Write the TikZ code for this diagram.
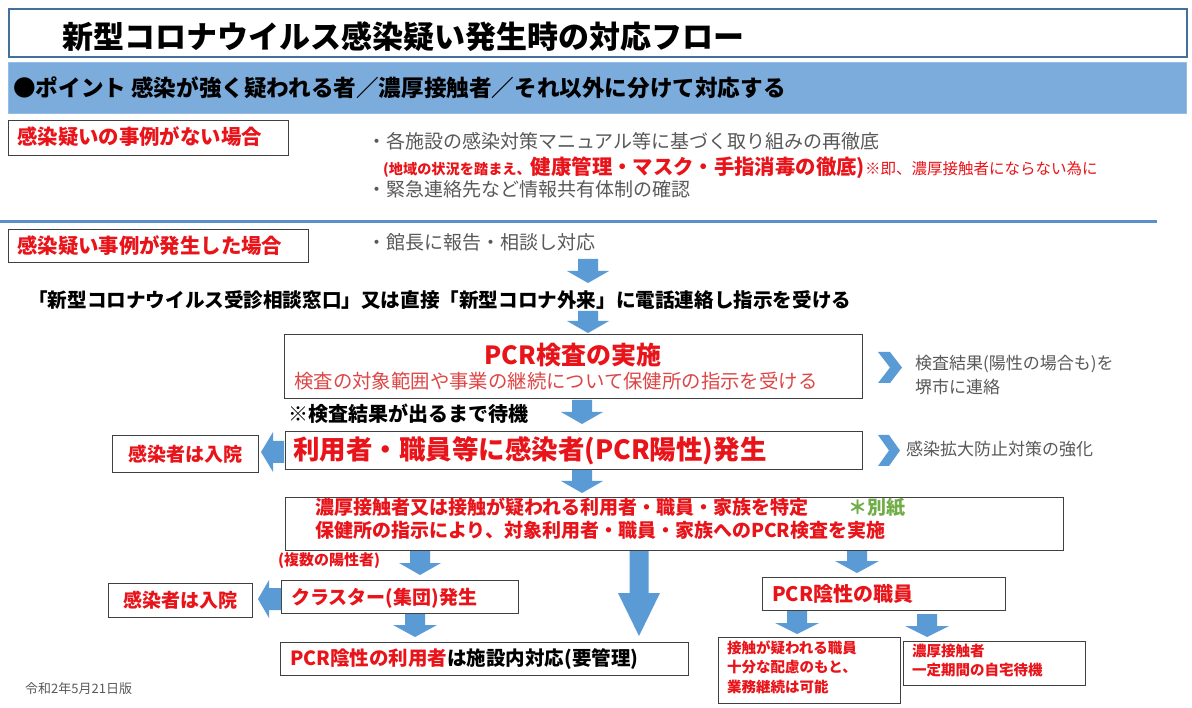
\documentclass[tikz,border=0pt]{standalone}
\usepackage{fontspec}
\setmainfont{Noto Sans CJK JP}
\definecolor{tblue}{RGB}{65,113,156}
\definecolor{bandc}{RGB}{123,172,220}
\definecolor{sepc}{RGB}{91,143,199}
\definecolor{arrblue}{RGB}{91,155,213}
\definecolor{jred}{RGB}{232,20,26}
\definecolor{lred}{RGB}{222,70,70}
\definecolor{jgray}{RGB}{89,89,89}
\definecolor{jgreen}{RGB}{112,173,71}
\definecolor{boxc}{RGB}{64,64,64}
\newcommand{\fs}[1]{\fontsize{#1}{#1}\selectfont}
% down block arrow: x, ytop, ytip, shaft half, head half, head length
\newcommand{\dnarr}[6]{\fill[arrblue] ({#1-#4},#2) -- ({#1+#4},#2) -- ({#1+#4},{#3-#6}) -- ({#1+#5},{#3-#6}) -- (#1,#3) -- ({#1-#5},{#3-#6}) -- ({#1-#4},{#3-#6}) -- cycle;}
% left block arrow: xstart, xtip, y, shaft half, head half, head length
\newcommand{\lfarr}[6]{\fill[arrblue] (#1,{#3-#4}) -- ({#2+#6},{#3-#4}) -- ({#2+#6},{#3-#5}) -- (#2,#3) -- ({#2+#6},{#3+#5}) -- ({#2+#6},{#3+#4}) -- (#1,{#3+#4}) -- cycle;}
% chevron: xleft, ytop, width, height, thickness
\newcommand{\chev}[5]{\fill[arrblue] (#1,#2) -- ({#1+#5},#2) -- ({#1+#3},{#2+#4/2}) -- ({#1+#5},{#2+#4}) -- (#1,{#2+#4}) -- ({#1+#3-#5},{#2+#4/2}) -- cycle;}
\tikzset{
  txt/.style={inner sep=0pt, anchor=base west},
  boxn/.style={draw=boxc, line width=1.2pt, anchor=north west, inner sep=0pt, fill=white},
}
\begin{document}
\begin{tikzpicture}[x=1pt,y=-1pt]
\useasboundingbox (0,0) rectangle (1192,708);
\fill[white] (0,0) rectangle (1192,708);
% title
\node[draw=tblue, line width=2pt, anchor=north west, minimum width=1178pt, minimum height=48pt, inner sep=0pt] (titlebox) at (8,8) {};
\node[txt] (title) at (62,49) {\fs{31}\bfseries 新型コロナウイルス感染疑い発生時の対応フロー};
% band
\node[fill=bandc, draw=bandc!80!white, anchor=north west, minimum width=1178pt, minimum height=51pt, inner sep=0pt] (band) at (8,62) {};
\node[txt] (bandtxt) at (13,96.5) {\fs{22.6}\bfseries ●ポイント 感染が強く疑われる者／濃厚接触者／それ以外に分けて対応する};
% section 1
\node[boxn, minimum width=280pt, minimum height=35pt] (box1) at (8,120) {};
\node[txt, text=jred] (box1t) at (17,144.8) {\fs{20.4}\bfseries 感染疑いの事例がない場合};
\node[txt, text=jgray] (b1) at (367,148.2) {\fs{19}・各施設の感染対策マニュアル等に基づく取り組みの再徹底};
\node[txt, text=jred] (b2) at (383,175) {\fs{14.2}\bfseries (地域の状況を踏まえ、\fs{20.4}健康管理・マスク・手指消毒の徹底)\mdseries\fs{15.5}※即、濃厚接触者にならない為に};
\node[txt, text=jgray] (b3) at (367,196.2) {\fs{19}・緊急連絡先など情報共有体制の確認};
\draw[sepc, line width=3pt] (0,222) -- (1157,222);
% section 2
\node[boxn, minimum width=300pt, minimum height=33pt] (box2) at (8,229) {};
\node[txt, text=jred] (box2t) at (17,253.3) {\fs{20.4}\bfseries 感染疑い事例が発生した場合};
\node[txt, text=jgray] (kancho) at (367,249.2) {\fs{19}・館長に報告・相談し対応};
\dnarr{588}{259}{283}{10}{21}{12}
\node[txt] (phone) at (28,307.5) {\fs{19.6}\bfseries 「新型コロナウイルス受診相談窓口」又は直接「新型コロナ外来」に電話連絡し指示を受ける};
\dnarr{588}{311}{333}{10}{21}{12}
% PCR box
\node[boxn, minimum width=578pt, minimum height=64pt] (pcr) at (284,334) {};
\node[inner sep=0pt, anchor=base, text=jred] (pcrt) at (573,364.5) {\fs{25}\bfseries PCR検査の実施};
\node[txt, text=lred] (pcrs) at (294,388.4) {\fs{19.4}検査の対象範囲や事業の継続について保健所の指示を受ける};
\chev{878}{352}{24}{31}{12}
\node[txt, text=jgray] (res1) at (915,369.5) {\fs{17}検査結果(陽性の場合も)を};
\node[txt, text=jgray] (res2) at (915,393.5) {\fs{17}堺市に連絡};
\node[txt] (wait) at (288,421.6) {\fs{20}\bfseries ※検査結果が出るまで待機};
\dnarr{582}{400}{424}{10}{21}{12}
% positive box
\node[boxn, minimum width=577pt, minimum height=38pt] (pos) at (285,431) {};
\node[txt, text=jred] (post) at (293,460) {\fs{26.5}\bfseries 利用者・職員等に感染者(PCR陽性)発生};
\lfarr{284}{261}{452}{11}{20}{12}
\node[boxn, minimum width=146pt, minimum height=37pt, text=jred] (hosp1) at (112,435) {\fs{19}\bfseries 感染者は入院};
\chev{878}{435}{22}{31}{11}
\node[txt, text=jgray] (spread) at (906,455.5) {\fs{17}感染拡大防止対策の強化};
\dnarr{582}{470}{493}{10}{21}{12}
% contact box
\node[boxn, minimum width=778pt, minimum height=53pt] (contact) at (285,497) {};
\node[txt, text=jred] (ct1) at (315,514.2) {\fs{19}\bfseries 濃厚接触者又は接触が疑われる利用者・職員・家族を特定};
\node[txt, text=jgreen] (betsu) at (848,514.2) {\fs{19}\bfseries ＊別紙};
\node[txt, text=jred] (ct2) at (315,537.2) {\fs{19}\bfseries 保健所の指示により、対象利用者・職員・家族へのPCR検査を実施};
\dnarr{420}{551}{575}{10}{21}{12}
\node[txt, text=jred] (multi) at (278,565.7) {\fs{15}\bfseries (複数の陽性者)};
\dnarr{639}{551}{636}{9.5}{21}{43}
\dnarr{857}{551}{573}{10}{22}{12}
% cluster
\node[boxn, minimum width=237pt, minimum height=33pt] (cluster) at (281,580) {};
\node[txt, text=jred] (clustert) at (291,604.2) {\fs{19}\bfseries クラスター(集団)発生};
\lfarr{281}{258}{599}{11}{19}{11}
\node[boxn, minimum width=144pt, minimum height=34pt, text=jred] (hosp2) at (108,583) {\fs{19}\bfseries 感染者は入院};
\dnarr{415}{614}{637}{10}{22}{12}
\node[boxn, minimum width=408pt, minimum height=33pt] (neguser) at (280,642) {};
\node[txt] (negusert) at (290,665.4) {\fs{19.5}\bfseries \textcolor{jred}{PCR陰性の利用者}は施設内対応(要管理)};
% staff
\node[boxn, minimum width=243pt, minimum height=33pt] (negstaff) at (762,577) {};
\node[txt, text=jred] (negstafft) at (772,601) {\fs{20}\bfseries PCR陰性の職員};
\dnarr{797}{611}{634}{10}{22}{11}
\dnarr{927}{614}{637}{10}{22}{11}
\node[boxn, minimum width=182pt, minimum height=66pt] (susp) at (718,637) {};
\node[txt, text=jred] (s1) at (727,653.5) {\fs{14.5}\bfseries 接触が疑われる職員};
\node[txt, text=jred] (s2) at (727,672.5) {\fs{14.5}\bfseries 十分な配慮のもと、};
\node[txt, text=jred] (s3) at (727,692.5) {\fs{14.5}\bfseries 業務継続は可能};
\node[boxn, minimum width=182pt, minimum height=44pt] (close) at (903,641) {};
\node[txt, text=jred] (c1) at (912,656.5) {\fs{14.5}\bfseries 濃厚接触者};
\node[txt, text=jred] (c2) at (912,675.5) {\fs{14.5}\bfseries 一定期間の自宅待機};
\node[txt, text=jgray] (date) at (25,693) {\fs{13}令和2年5月21日版};
\end{tikzpicture}
\end{document}
